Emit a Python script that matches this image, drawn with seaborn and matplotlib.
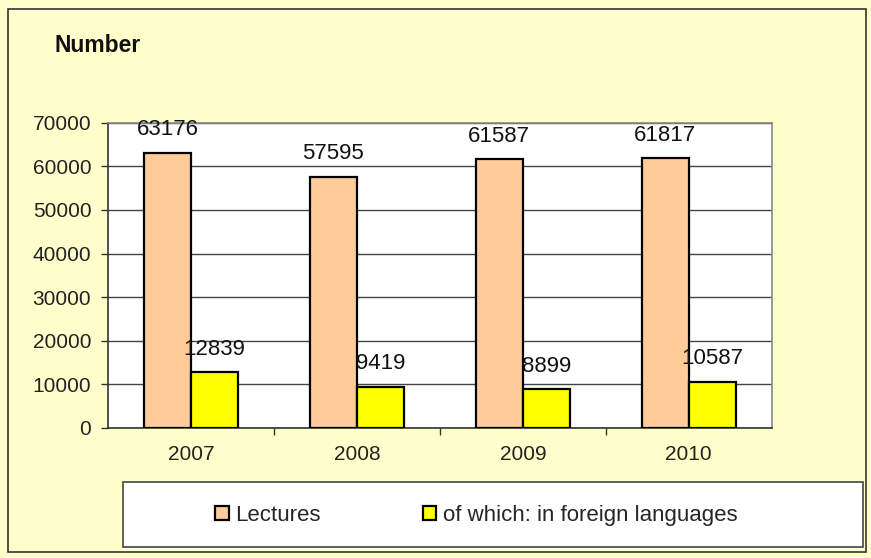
import pandas as pd
import numpy as np
import seaborn as sns
import matplotlib.pyplot as plt
from matplotlib.patches import Rectangle

years = ['2007', '2008', '2009', '2010']
lectures = [63176, 57595, 61587, 61817]
foreign = [12839, 9419, 8899, 10587]
series_names = ['Lectures', 'of which: in foreign languages']
bar_colors = ['#FFCC99', '#FFFF00']

df = pd.DataFrame({
    'year': years * 2,
    'value': lectures + foreign,
    'series': [series_names[0]] * 4 + [series_names[1]] * 4,
})

sns.set_style('white')
plt.rcParams['font.family'] = ['Liberation Sans', 'DejaVu Sans']

fig = plt.figure(figsize=(8.71, 5.58), dpi=100, facecolor='#FFFFCC')
ax = fig.add_axes([0.124, 0.233, 0.762, 0.547])
ax.set_facecolor('white')

sns.barplot(data=df, x='year', y='value', hue='series', palette=bar_colors,
            saturation=1, width=0.566, gap=0, edgecolor='black', linewidth=1.6,
            ax=ax, legend=True, zorder=3)

for cont in ax.containers:
    ax.bar_label(cont, padding=9, fontsize=16, color='#111111')

ax.set_ylim(0, 70000)
ax.set_xlim(-0.5, 3.5)
ax.set_yticks(np.arange(0, 70001, 10000))
ax.grid(axis='y', color='#444444', linewidth=1, zorder=0)
ax.set_axisbelow(True)
ax.set_xlabel('')
ax.set_ylabel('')
ax.tick_params(axis='y', which='major', direction='out', length=5, width=1,
               color='#333333', labelsize=15, labelcolor='#222222', left=True, pad=7)
ax.tick_params(axis='x', which='major', length=0, labelsize=15,
               labelcolor='#222222', pad=12)
ax.set_xticks([0.5, 1.5, 2.5], minor=True)
ax.tick_params(axis='x', which='minor', direction='out', length=5, width=1,
               color='#333333', bottom=True)
for side in ['left', 'bottom']:
    ax.spines[side].set_color('#333333')
    ax.spines[side].set_linewidth(1.2)
for side in ['top', 'right']:
    ax.spines[side].set_color('#888888')
    ax.spines[side].set_linewidth(1.2)

handles, labels = ax.get_legend_handles_labels()
ax.get_legend().remove()
fig.legend(handles, labels, loc='center', bbox_to_anchor=(0.547, 0.077), ncol=2,
           frameon=False, fontsize=16, handlelength=0.6, handleheight=0.6,
           handletextpad=0.3, columnspacing=4.6)

# legend box and outer frame
fig.patches.append(Rectangle((123 / 871, 1 - 547 / 558), 740 / 871, 65 / 558,
                             transform=fig.transFigure, facecolor='white',
                             edgecolor='#444444', linewidth=1.2, zorder=0))
fig.patches.append(Rectangle((8 / 871, 1 - 552 / 558), 858 / 871, 543 / 558,
                             transform=fig.transFigure, facecolor='none',
                             edgecolor='#333333', linewidth=1.2, zorder=0))

fig.text(55 / 871, 1 - 45 / 558, 'Number', fontsize=16.5, fontweight='bold',
         va='center', ha='left', color='#111111')

fig.savefig('out.png', dpi=100, facecolor=fig.get_facecolor())
